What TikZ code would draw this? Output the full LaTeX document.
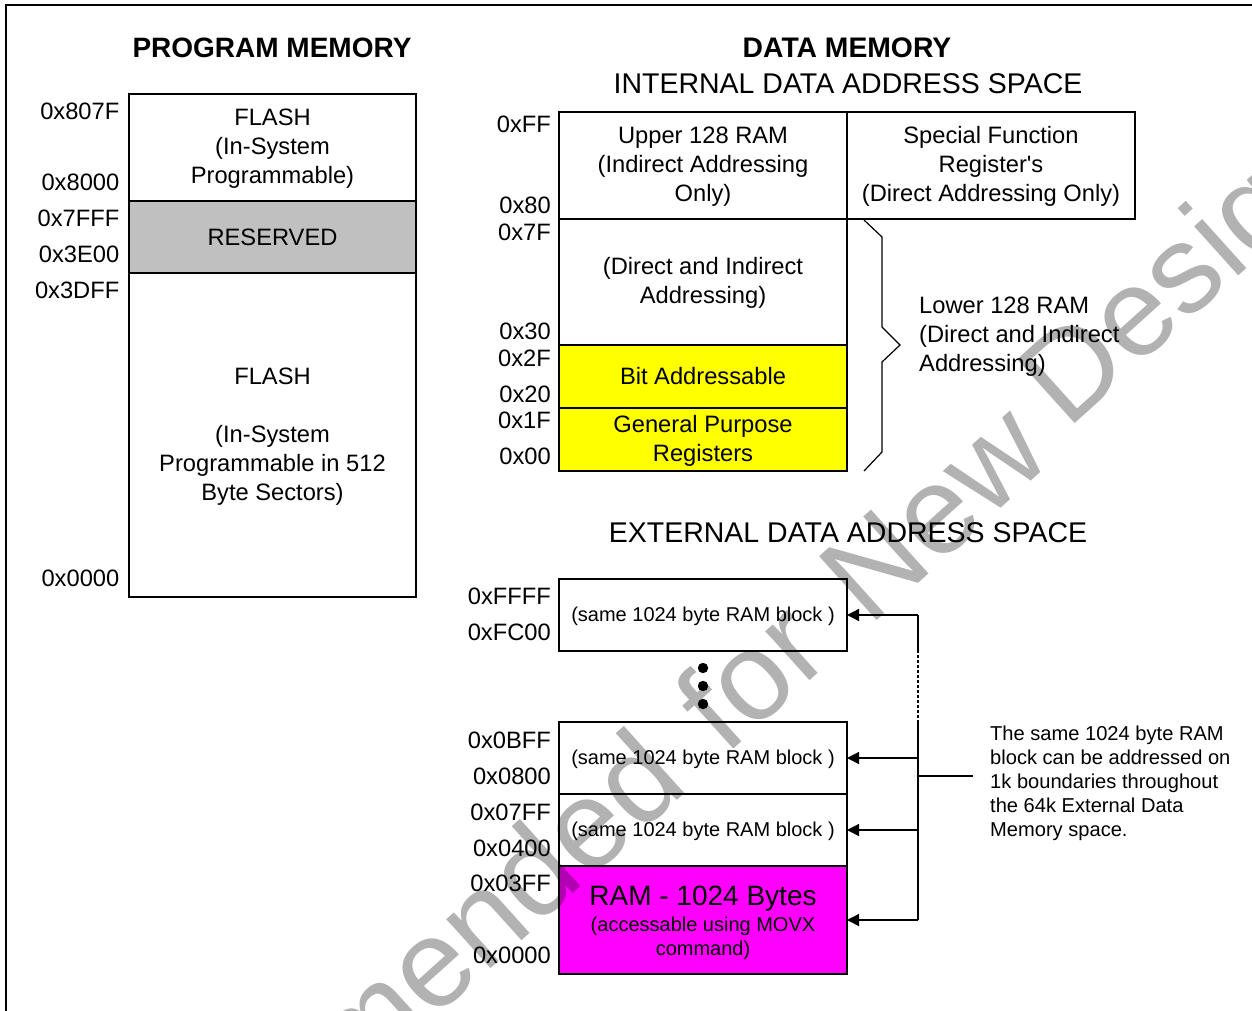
\documentclass[tikz,border=0pt]{standalone}
\usepackage{fontspec}
\setmainfont{Liberation Sans}
\newfontfamily\plainf{Liberation Sans}
\usetikzlibrary{arrows.meta,calc}
\newcommand{\fs}[2]{\fontsize{#1}{#2}\selectfont}
\newcommand{\ts}{\rule{0pt}{19pt}}
\newcommand{\tss}{\rule{0pt}{16.5pt}}
\definecolor{ymem}{RGB}{255,255,0}
\definecolor{mmem}{RGB}{255,0,255}
\definecolor{gmem}{RGB}{192,192,192}
\tikzset{
  boxn/.style={draw=black,line width=2pt,inner sep=0pt,outer sep=0pt,align=center,font=\fs{23.7}{29}},
  addr/.style={anchor=east,inner sep=0pt,font=\fs{23.7}{29}},
  title/.style={inner sep=0pt,anchor=base,font=\fs{28.5}{30}},
  arr/.style={line width=1.4pt,-{Triangle[length=12pt,width=12pt]}},
  wire/.style={line width=1.4pt},
  blockn/.style={boxn,font=\fs{20}{24}},
}
\begin{document}
\begin{tikzpicture}[x=1pt,y=-1pt]
\useasboundingbox (0,0) rectangle (1252,1011);
\clip (0,0) rectangle (1252,1011);
\draw[line width=2.4pt] (6,1030) -- (6,5) -- (1270,5);
% titles
\node[title,font=\fs{28}{30}\bfseries] (tpm) at (272,57.5) {PROGRAM MEMORY};
\node[title,font=\fs{28.3}{30}\bfseries] (tdm) at (847,57.5) {DATA MEMORY};
\node[title] (tint) at (848,93.5) {INTERNAL DATA ADDRESS SPACE};
\node[title] (text) at (848,542.5) {EXTERNAL DATA ADDRESS SPACE};
% program memory
\node[boxn,minimum width=287pt,minimum height=107pt] (pf) at (272.5,147.5) {\ts FLASH\\(In-System\\Programmable)};
\node[boxn,fill=gmem,minimum width=287pt,minimum height=72pt] (pr) at (272.5,237) {RESERVED};
\node[boxn,minimum width=287pt,minimum height=324pt] (pl) at (272.5,435) {\ts FLASH\\[29pt](In-System\\Programmable in 512\\Byte Sectors)};
\foreach \n/\y/\t in {a1/111/0x807F,a2/182/0x8000,a3/218/0x7FFF,a4/254/0x3E00,a5/290/0x3DFF,a6/578/0x0000}
  \node[addr] (\n) at (119.5,\y) {\t};
% internal
\node[boxn,minimum width=288pt,minimum height=107pt] (up) at (703,165.5) {\ts Upper 128 RAM\\(Indirect Addressing\\Only)};
\node[boxn,minimum width=288pt,minimum height=107pt] (sf) at (991,165.5) {\ts Special Function\\Register{\plainf'}s\\(Direct Addressing Only)};
\node[boxn,minimum width=288pt,minimum height=126pt] (di) at (703,282) {\ts (Direct and Indirect\\Addressing)};
\node[boxn,fill=ymem,minimum width=288pt,minimum height=63pt] (bi) at (703,376.5) {Bit Addressable};
\node[boxn,fill=ymem,minimum width=288pt,minimum height=63pt] (gp) at (703,439.5) {\ts General Purpose\\Registers};
\foreach \n/\y/\t in {b1/124/0xFF,b2/205/0x80,b3/232/0x7F,b4/331/0x30,b5/358/0x2F,b6/394/0x20,b7/420/0x1F,b8/456.5/0x00}
  \node[addr] (\n) at (551,\y) {\t};
% brace
\coordinate (br1) at (864,220);
\coordinate (br2) at (882,237);
\coordinate (br3) at (882,327);
\coordinate (br4) at (900,345);
\coordinate (br5) at (882,362);
\coordinate (br6) at (882,452);
\coordinate (br7) at (864,471);
\draw[line width=1.2pt] (br1) -- (br2) -- (br3) -- (br4) -- (br5) -- (br6) -- (br7);
\node[inner sep=0pt,anchor=west,align=left,font=\fs{23.7}{29}] (lo) at (919,337) {Lower 128 RAM\\(Direct and Indirect\\Addressing)};
% external
\node[blockn,minimum width=288pt,minimum height=72pt] (e1) at (703,615) {\tss (same 1024 byte RAM block )};
\node[blockn,minimum width=288pt,minimum height=72pt] (e2) at (703,758) {\tss (same 1024 byte RAM block )};
\node[blockn,minimum width=288pt,minimum height=72pt] (e3) at (703,830) {\tss (same 1024 byte RAM block )};
\node[boxn,fill=mmem,minimum width=288pt,minimum height=108pt] (e4) at (703,920) {};
\node[inner sep=0pt,anchor=base,font=\fs{28}{30}] (ram) at (703,905) {RAM - 1024 Bytes};
\node[inner sep=0pt,align=center,font=\fs{20}{24}] (ramb) at (703,938) {(accessable using MOVX\\command)};
\foreach \n/\y in {d1/668,d2/686,d3/704}
  \fill[black] (703,\y) circle (5.2pt) coordinate (\n);
\foreach \n/\y/\t in {c1/596/0xFFFF,c2/632/0xFC00,c3/740/0x0BFF,c4/776/0x0800,c5/812/0x07FF,c6/848/0x0400,c7/883/0x03FF,c8/955/0x0000}
  \node[addr] (\n) at (551,\y) {\t};
% bus
\coordinate (bt) at (918,615);
\coordinate (b2) at (918,758);
\coordinate (b3) at (918,830);
\coordinate (b4) at (918,920);
\coordinate (bm) at (918,776);
\coordinate (bn) at (973,776);
\coordinate (ga) at (918,653);
\coordinate (gb) at (918,720);
\draw[wire] (bt) -- (b4);
\draw[white,line width=1.8pt,dash pattern=on 1.5pt off 3.5pt] (ga) -- (gb);
\draw[arr] (bt) -- (e1.east);
\draw[arr] (b2) -- (e2.east);
\draw[arr] (b3) -- (e3.east);
\draw[arr] (b4) -- (e4.east);
\draw[wire] (bm) -- (bn);
\node[inner sep=0pt,anchor=north west,align=left,font=\fs{20.1}{24}] (note) at (990,726) {The same 1024 byte RAM\\block can be addressed on\\1k boundaries throughout\\the 64k External Data\\Memory space.};
% watermark
\begin{scope}[blend mode=multiply]
\node[inner sep=0pt,anchor=base east,rotate=42,text=black!30,font=\fs{125}{130}] (wm) at (1403,128) {\raisebox{-14pt}{Not\hspace{47pt}Recommended\hspace{47pt}for\hspace{47pt}New}\hspace{29pt}Designs};
\end{scope}
\end{tikzpicture}
\end{document}
